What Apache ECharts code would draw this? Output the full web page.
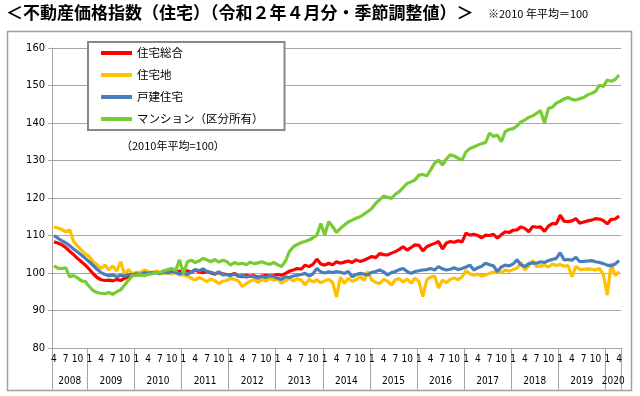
<!DOCTYPE html>
<html>
<head>
<meta charset="utf-8">
<script src="https://cdn.jsdelivr.net/npm/echarts@6/dist/echarts.min.js"></script>
<style>
html, body { margin: 0; padding: 0; background: #fff; }
#pic_chart { width: 640px; height: 396px; }
</style>
</head>
<body>
<div id="pic_chart"></div>
<script>
// 2008年4月〜2020年4月 (月次)
var yearLabels = ['2008','2009','2010','2011','2012','2013','2014','2015','2016','2017','2018','2019','2020'];
var monthLabels = ['1','4','7','10'];
var seriesNames = ['住宅総合','住宅地','戸建住宅','マンション（区分所有）'];
var yTicks = [80, 90, 100, 110, 120, 130, 140, 150, 160];

var sogo = [
  108.3,108.0,107.5,106.8,105.8,104.9,103.9,103.0,102.1,
  101.0,99.8,98.8,98.2,98.0,98.1,97.9,98.3,98.0,98.6,99.0,99.3,
  99.6,99.5,99.9,100.2,99.9,100.3,100.0,100.4,100.2,100.6,100.3,100.5,
  100.4,100.6,100.2,100.8,100.3,100.1,100.4,100.0,99.7,100.1,99.8,99.6,
  99.5,99.9,99.2,99.0,99.4,99.1,99.3,98.9,99.2,99.4,99.1,99.3,
  99.6,99.4,99.9,100.5,100.8,101.2,101.0,102.1,101.7,102.3,103.7,102.4,
  102.1,102.6,102.2,103.0,102.6,102.9,103.2,102.8,103.5,103.1,103.4,103.9,
  104.4,104.1,105.2,104.9,104.8,105.3,105.7,106.3,107.0,106.1,106.8,107.5,
  107.4,105.9,107.0,107.5,107.9,108.4,106.4,108.0,108.4,108.2,108.6,108.3,
  110.6,110.1,110.3,110.0,109.4,110.1,110.0,110.3,109.3,110.2,111.0,110.8,
  111.4,111.5,112.3,111.9,111.0,112.4,112.2,112.3,111.1,112.5,113.2,113.1,
  115.4,113.8,113.7,113.9,114.5,113.3,113.6,113.9,114.1,114.5,114.4,114.0,
  113.1,114.3,114.4,115.2
];
var takuchi = [
  112.3,112.0,111.6,111.0,111.5,108.4,107.2,106.1,105.1,
  104.4,103.0,102.2,101.2,102.1,100.8,101.9,100.5,103.0,99.6,100.9,99.8,
  100.2,100.1,100.8,100.4,99.8,100.5,100.2,99.9,100.1,99.7,100.3,99.5,
  99.4,99.2,98.6,98.1,98.8,98.3,97.7,98.4,97.9,97.2,97.8,98.0,
  98.6,98.3,97.9,96.4,97.2,97.8,98.3,97.5,98.2,97.9,98.5,98.1,
  98.4,97.3,98.0,98.6,97.9,98.5,98.1,96.8,98.3,97.6,98.2,97.4,
  97.9,98.3,97.5,93.6,98.9,97.2,98.6,97.8,98.2,99.1,98.0,100.4,
  98.1,97.5,97.2,98.3,97.8,96.8,98.2,98.5,97.6,98.4,97.3,98.6,
  97.8,93.7,98.2,98.9,99.2,96.0,98.1,97.4,98.3,98.7,98.2,99.0,
  100.6,99.8,99.4,99.7,99.2,99.5,99.9,100.2,100.4,100.1,100.8,100.5,
  100.9,101.3,102.8,100.8,101.9,103.3,101.7,101.9,102.1,101.6,102.4,102.0,
  102.3,101.8,102.0,99.0,101.8,100.9,101.0,101.1,101.0,100.8,101.2,99.6,
  94.1,102.6,99.3,100.4
];
var kodate = [
  110.0,109.3,108.6,108.0,107.3,106.4,105.6,104.8,103.9,
  103.0,102.0,101.0,100.1,99.6,99.3,99.5,99.0,99.4,99.2,99.6,99.5,
  99.8,99.6,100.1,99.9,100.2,100.0,99.8,100.3,100.0,100.4,100.1,99.7,
  100.2,99.6,100.3,100.9,100.6,101.1,100.4,100.2,99.8,100.3,99.5,99.6,
  99.3,99.7,99.1,99.4,98.9,99.2,99.0,98.6,99.1,98.8,99.3,99.0,
  98.6,98.3,99.0,98.8,99.2,99.4,99.6,99.9,99.2,99.8,101.2,100.3,
  100.0,100.3,100.1,100.4,100.2,99.9,100.4,99.0,99.6,99.9,99.7,99.5,
  100.2,100.4,100.8,100.3,99.5,100.1,100.4,100.9,101.2,100.4,99.9,100.4,
  100.6,100.8,100.9,101.2,100.8,101.7,101.1,100.8,101.0,101.4,100.9,101.2,
  101.6,102.1,100.8,101.4,101.8,102.6,102.2,101.9,100.4,101.6,102.1,101.9,
  102.4,103.5,102.2,101.7,102.5,102.7,102.6,103.0,102.8,103.3,103.6,103.9,
  105.4,103.5,103.6,103.4,104.2,103.0,103.1,103.2,103.3,103.0,102.8,102.5,
  102.1,101.9,102.4,103.3
];
var mansion = [
  101.9,101.3,101.2,101.4,99.0,99.3,98.7,97.9,97.7,
  96.4,95.3,94.8,94.6,94.5,94.8,94.3,95.0,95.5,96.8,98.1,99.3,
  99.4,99.5,99.3,99.6,99.8,100.2,100.0,100.6,100.9,101.2,100.7,103.5,
  99.9,103.0,103.4,102.8,103.2,103.9,103.5,103.0,103.6,102.9,103.4,103.1,
  102.1,102.8,102.4,102.6,102.2,102.9,102.5,102.7,103.0,102.6,102.3,102.8,
  102.2,101.7,103.2,105.7,107.0,107.6,108.1,108.4,108.8,109.4,110.1,113.2,
  110.1,113.7,112.4,110.8,111.9,112.8,113.6,114.1,114.6,115.0,115.7,116.4,
  117.2,118.6,119.5,120.5,120.2,119.9,121.0,121.7,122.8,123.9,124.3,124.8,
  126.1,126.3,125.9,127.5,129.3,130.1,128.8,130.4,131.5,131.2,130.6,130.1,
  132.3,133.2,133.6,134.1,134.5,134.8,137.3,136.4,136.8,135.0,137.7,138.3,
  138.5,139.2,140.3,140.8,141.5,141.9,142.6,143.3,140.0,143.9,144.2,145.3,
  145.8,146.4,146.8,146.3,146.1,146.5,146.8,147.5,147.9,148.4,150.1,149.7,
  151.5,151.1,151.6,152.8
];

var colors = ['#ff0000', '#ffc000', '#4a7ebb', '#77cc33'];
var seriesData = [sogo, takuchi, kodate, mansion];

// 月カテゴリ "年/月"
var categories = [];
var y = +yearLabels[0], m = 4;
while (y < 2020 || (y === 2020 && m <= 4)) {
  categories.push(y + '/' + m);
  m++;
  if (m > 12) { m = 1; y++; }
}
function ym(v) { var p = v.split('/'); return [+p[0], +p[1]]; }

var numFont = "'Liberation Sans Narrow', 'DejaVu Sans Condensed', 'Liberation Sans', sans-serif";
var jpFont = "'Noto Sans CJK JP', sans-serif";
var gray = '#a6a6a6';

var myChart = echarts.init(document.getElementById('pic_chart'));
option = {
    animation: false,
    color: colors,
    textStyle: { fontFamily: jpFont },
    graphic: [
        { type: 'rect', shape: { x: 7.5, y: 31.5, width: 624, height: 359 },
          style: { fill: 'none', stroke: '#a0a0a0', lineWidth: 1.5 }, z: -1 },
        { type: 'text', left: 6, top: 4,
          style: { text: '＜不動産価格指数（住宅）（令和２年４月分・季節調整値）＞',
                   font: 'bold 17px ' + jpFont, fill: '#000' } },
        { type: 'text', left: 488, top: 8,
          style: { text: '※2010 年平均＝100', font: '11px ' + jpFont, fill: '#000' } },
        { type: 'text', left: 121, top: 140,
          style: { text: '（2010年平均=100）', font: '11px ' + jpFont, fill: '#000' } }
    ],
    legend: {
        data: seriesNames,
        orient: 'vertical',
        left: 88,
        top: 42,
        padding: [4, 21, 4, 13],
        itemGap: 8,
        itemWidth: 31,
        itemHeight: 4,
        itemTextGap: 5,
        icon: 'rect',
        borderColor: '#888',
        borderWidth: 2,
        backgroundColor: '#fff',
        textStyle: { fontSize: 11.5, lineHeight: 14, color: '#000', fontFamily: jpFont }
    },
    grid: {
        left: 52,
        right: 19,
        top: 48,
        bottom: 48,
        outerBoundsMode: 'none'
    },
    xAxis: [
        {
            type: 'category',
            data: categories,
            boundaryGap: true,
            position: 'bottom',
            axisLine: { lineStyle: { color: gray, width: 1 } },
            axisTick: {
                show: true,
                length: 42,
                lineStyle: { color: gray, width: 1 },
                interval: function (index, value) { return index === 0 || ym(value)[1] === 1; }
            },
            axisLabel: {
                interval: function (index, value) { return monthLabels.indexOf(String(ym(value)[1])) >= 0; },
                formatter: function (value) { return String(ym(value)[1]); },
                margin: 6,
                fontSize: 10,
                color: '#000',
                fontFamily: numFont
            },
            splitLine: { show: false }
        },
        {
            type: 'category',
            data: categories,
            boundaryGap: true,
            position: 'bottom',
            offset: 0,
            axisLine: { show: false },
            axisTick: { show: false },
            axisLabel: {
                interval: function (index, value) {
                    var a = ym(value);
                    if (a[0] === 2008) return a[1] === 8;
                    if (a[0] === 2020) return a[1] === 2;
                    return a[1] === 6;
                },
                formatter: function (value) {
                    var yr = ym(value)[0];
                    if (yearLabels.indexOf(String(yr)) < 0) return '';
                    return yr === 2008 ? '{c|' + yr + '}' : '{s|' + yr + '}';
                },
                rich: {
                    c: { fontSize: 10, color: '#000', fontFamily: numFont },
                    s: { fontSize: 10, color: '#000', fontFamily: numFont, padding: [0, 0, 0, 4] }
                },
                margin: 28,
                fontSize: 10,
                color: '#000',
                fontFamily: numFont
            },
            splitLine: { show: false }
        }
    ],
    yAxis: {
        type: 'value',
        min: yTicks[0],
        max: yTicks[yTicks.length - 1],
        interval: 10,
        axisLine: { show: true, lineStyle: { color: gray, width: 1 } },
        axisTick: { show: true, length: 4, lineStyle: { color: gray } },
        axisLabel: { margin: 7, fontSize: 11, color: '#000', fontFamily: numFont },
        splitLine: { lineStyle: { color: gray, width: 1.2 } }
    },
    series: seriesNames.map(function (name, i) {
        return {
            name: name,
            type: 'line',
            xAxisIndex: 0,
            data: seriesData[i],
            symbol: 'none',
            smooth: false,
            itemStyle: { color: colors[i] },
            lineStyle: { color: colors[i], width: 3.2 }
        };
    })
};
myChart.setOption(option);
</script>
</body>
</html>
